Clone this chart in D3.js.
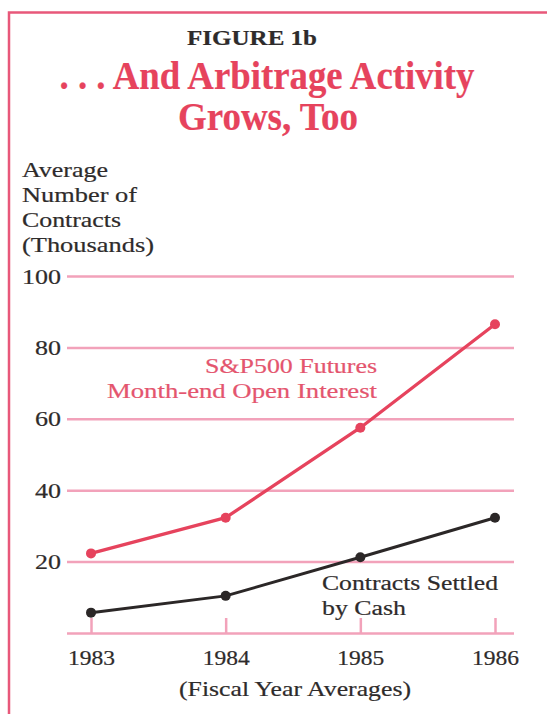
<!DOCTYPE html>
<html>
<head>
<meta charset="utf-8">
<script src="https://cdn.jsdelivr.net/npm/d3@7"></script>
<style>
  html, body { margin: 0; padding: 0; background: #fff; }
  svg { display: block; }
  text { font-family: "Liberation Serif", "Times New Roman", serif; }
</style>
</head>
<body>
<svg id="chart" width="547" height="714"></svg>
<script>
"use strict";

// === Data ===
let years = [1983, 1984, 1985, 1986];
let openInterest = [22.3, 32.3, 57.5, 86.5];   // S&P500 futures month-end open interest
let settledByCash = [5.7, 10.4, 21.2, 32.3];   // contracts settled by cash
let yTicks = [0, 20, 40, 60, 80, 100];
let yTitle = ["Average", "Number of", "Contracts", "(Thousands)"];

let red = "#e6435d";
let grid = "#f2a2ba";
let ink = "#2e2b2b";
let textStroke = 0.2;

let svg = d3.select("#chart");

// frame (left + top only, the rest is cropped)
svg.append("path")
  .attr("d", "M9,714 V12.5 H547")
  .attr("fill", "none")
  .attr("stroke", "#e8587a")
  .attr("stroke-width", 2.5);

// helper: plain text with a thin outline to mimic the heavier book face
function label(xp, yp, str, size, color, width, anchor) {
  let t = svg.append("text")
    .attr("x", xp).attr("y", yp)
    .attr("font-size", size)
    .attr("fill", color)
    .attr("stroke", color).attr("stroke-width", textStroke)
    .attr("text-anchor", anchor || "start")
    .text(str);
  if (width) t.attr("textLength", width).attr("lengthAdjust", "spacingAndGlyphs");
  return t;
}

// === Titles ===
label(252, 45, "FIGURE 1b", 20, ink, 130, "middle").attr("font-weight", "bold");
label(267, 89, ". . . And Arbitrage Activity", 39, red, 415, "middle").attr("font-weight", "bold");
label(268, 130, "Grows, Too", 39, red, 180, "middle").attr("font-weight", "bold");

// y axis title
let titleWidths = [86, 115, 99, 132];
yTitle.forEach((t, i) => label(22, 177 + i * 25, t, 21, ink, titleWidths[i]));

// === Scales ===
let x = d3.scaleLinear().domain([1983, 1986]).range([91, 495]);
let y = d3.scaleLinear().domain([0, 100]).range([633, 276]);
let left = 67, right = 514;

// grid lines + y labels
let yAxis = svg.append("g")
  .attr("transform", `translate(${left},0)`)
  .call(d3.axisLeft(y)
    .tickValues(yTicks)
    .tickSize(-(right - left))
    .tickPadding(6)
    .tickFormat(d => d === 0 ? "" : d));
yAxis.select(".domain").remove();
yAxis.selectAll(".tick line").attr("stroke", grid).attr("stroke-width", 2.5);
yAxis.selectAll(".tick text")
  .attr("font-family", "Liberation Serif, serif")
  .attr("font-size", 20).attr("fill", ink)
  .attr("stroke", ink).attr("stroke-width", textStroke)
  .attr("textLength", d => String(d).length * 13)
  .attr("lengthAdjust", "spacingAndGlyphs")
  .attr("dy", "0.35em");

// x ticks (pointing up) + year labels
let xAxis = svg.append("g")
  .attr("transform", `translate(0,${y(0)})`)
  .call(d3.axisBottom(x)
    .tickValues(years)
    .tickSize(-15)
    .tickPadding(18)
    .tickFormat(d3.format("d")));
xAxis.select(".domain").remove();
xAxis.selectAll(".tick line").attr("stroke", grid).attr("stroke-width", 2.5);
xAxis.selectAll(".tick text")
  .attr("font-family", "Liberation Serif, serif")
  .attr("font-size", 20).attr("fill", ink)
  .attr("stroke", ink).attr("stroke-width", textStroke)
  .attr("textLength", 47)
  .attr("lengthAdjust", "spacingAndGlyphs");

label(295, 696, "(Fiscal Year Averages)", 21, ink, 232, "middle");

// === Series ===
let line = d3.line().x(d => x(d[0])).y(d => y(d[1]));

function drawSeries(values, color, width) {
  let pts = years.map((yr, i) => [yr, values[i]]);
  svg.append("path")
    .datum(pts)
    .attr("d", line)
    .attr("fill", "none")
    .attr("stroke", color)
    .attr("stroke-width", width)
    .attr("stroke-linejoin", "round");
  svg.selectAll(null)
    .data(pts)
    .enter().append("circle")
    .attr("cx", d => x(d[0]))
    .attr("cy", d => y(d[1]))
    .attr("r", 5)
    .attr("fill", color);
}

drawSeries(settledByCash, "#2b2727", 3);
drawSeries(openInterest, red, 3.3);

// === Annotations ===
label(377, 373, "S&P500 Futures", 20, "#e4556e", 172, "end");
label(377, 398, "Month-end Open Interest", 20, "#e4556e", 270, "end");
label(322, 590, "Contracts Settled", 20, ink, 176);
label(322, 615, "by Cash", 20, ink, 84);
</script>
</body>
</html>
